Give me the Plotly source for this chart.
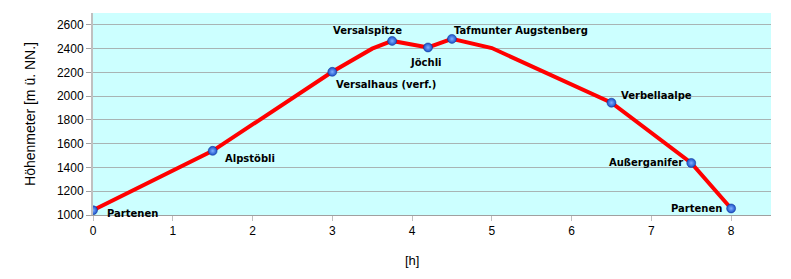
import plotly.graph_objects as go

# route (line vertices)
route_h = [0, 1.5, 3, 3.5, 3.75, 4.2, 4.5, 5, 6.5, 7.5, 8]
route_alt = [1040, 1540, 2205, 2400, 2465, 2410, 2482, 2405, 1945, 1438, 1055]

# named stops
stop_names = ["Partenen", "Alpstöbli", "Versalhaus (verf.)", "Versalspitze", "Jöchli",
              "Tafmunter Augstenberg", "Verbellaalpe", "Außerganifer", "Partenen"]
stop_h = [0, 1.5, 3, 3.75, 4.2, 4.5, 6.5, 7.5, 8]
stop_alt = [1040, 1540, 2205, 2465, 2410, 2482, 1945, 1438, 1055]

x_ticks = [0, 1, 2, 3, 4, 5, 6, 7, 8]
y_ticks = [1000, 1200, 1400, 1600, 1800, 2000, 2200, 2400, 2600]

# label placement (style): xanchor, xshift, yshift
label_style = [("left", 12, -3), ("left", 10, -8), ("left", 2, -13), ("center", -25, 10),
               ("center", -2, -15), ("left", 0, 8), ("left", 8, 7), ("right", -6, 0),
               ("right", -7, 0)]

fig = go.Figure()
fig.add_trace(go.Scatter(x=route_h, y=route_alt, mode="lines",
                         line=dict(color="#ff0000", width=4), hoverinfo="skip"))
fig.add_trace(go.Scatter(x=stop_h, y=stop_alt, mode="markers",
                         marker=dict(size=9, color="#1a4fc8",
                                     line=dict(color="#0a3090", width=0.5),
                                     gradient=dict(type="radial", color="#7fb0ff")),
                         text=stop_names, hoverinfo="text"))

for n, x, y, (xa, xs, ys) in zip(stop_names, stop_h, stop_alt, label_style):
    fig.add_annotation(x=x, y=y, text="<b>%s</b>" % n, showarrow=False,
                       xanchor=xa, yanchor="middle", xshift=xs, yshift=ys,
                       font=dict(family="DejaVu Sans", size=10, color="#000000"))

# x-axis title, centred under the 0..8 span
fig.add_annotation(x=(x_ticks[0] + x_ticks[-1]) / 2, xref="x", y=0, yref="paper",
                   yshift=-45, text="[h]", showarrow=False, yanchor="middle",
                   font=dict(size=13))

fig.update_layout(
    width=791, height=279, margin=dict(l=93, r=20, t=13, b=64),
    paper_bgcolor="white", plot_bgcolor="#ccffff", showlegend=False,
    font=dict(family="Liberation Sans, Arial", size=12, color="#000000"),
    xaxis=dict(range=[0, 8.5], tickmode="array", tickvals=x_ticks,
               showgrid=False, zeroline=False, showline=True, linecolor="#a0a0a0",
               ticks="outside", ticklen=5, tickcolor="#c0c0c0"),
    yaxis=dict(range=[1000, 2700], tickvals=y_ticks,
               showgrid=True, gridcolor="#a8b4b4", gridwidth=1, zeroline=False,
               showline=True, linecolor="#c0c0c0", linewidth=2,
               ticks="outside", ticklen=5, tickcolor="#a0a0a0",
               title=dict(text="Höhenmeter [m ü. NN.]", standoff=18, font=dict(size=14))),
)

fig.write_html("out.html")
